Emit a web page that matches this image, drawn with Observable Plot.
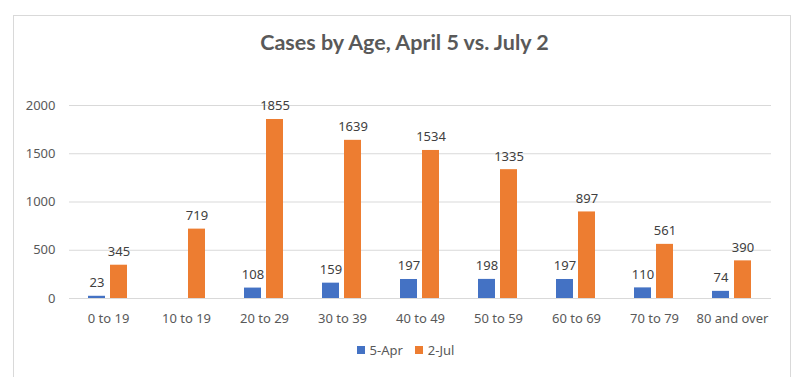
<!DOCTYPE html>
<html>
<head>
<meta charset="utf-8">
<script src="https://cdn.jsdelivr.net/npm/d3@7"></script>
<script src="https://cdn.jsdelivr.net/npm/@observablehq/plot@0.6"></script>
<style>
  html, body { margin: 0; padding: 0; background: #fff; }
  #wrap { position: relative; width: 801px; height: 377px; overflow: hidden; background: #fff; }
  #frame { position: absolute; left: 13px; top: 15px; width: 778px; height: 400px; border: 1px solid #d9d9d9; box-sizing: border-box; }
  #title { position: absolute; left: 4px; width: 801px; top: 29px; text-align: center; font-family: Lato, "Noto Sans", sans-serif; font-weight: bold; font-size: 21.5px; color: #595959; }
  #legend { position: absolute; top: 341px; left: 5px; width: 801px; display: flex; justify-content: center; align-items: center; font-family: "Noto Sans", sans-serif; font-size: 13px; color: #595959; }
  #legend .sw { display: inline-block; width: 8px; height: 8px; margin-right: 5px; }
  #legend .item { display: flex; align-items: center; margin: 0 6px; }
  #chart { position: absolute; left: 0; top: 0; }
</style>
</head>
<body>
<div id="wrap">
  <div id="frame"></div>
  <div id="chart"></div>
  <div id="title">Cases by Age, April 5 vs. July 2</div>
  <div id="legend"></div>
</div>
<script>
const categories = ["0 to 19", "10 to 19", "20 to 29", "30 to 39", "40 to 49", "50 to 59", "60 to 69", "70 to 79", "80 and over"];
const seriesNames = ["5-Apr", "2-Jul"];
const april5 = [23, null, 108, 159, 197, 198, 197, 110, 74];
const july2 = [345, 719, 1855, 1639, 1534, 1335, 897, 561, 390];
const yTicks = [0, 500, 1000, 1500, 2000];
const colors = ["#4472C4", "#ED7D31"];

const rows = [];
categories.forEach((c, i) => {
  rows.push({cat: c, series: seriesNames[0], value: april5[i]});
  rows.push({cat: c, series: seriesNames[1], value: july2[i]});
});
const data = rows.filter(d => d.value != null);

const font = "\"Noto Sans\", sans-serif";

const chart = Plot.plot({
  width: 801,
  height: 377,
  marginTop: 105,
  marginBottom: 79,
  marginLeft: 68,
  marginRight: 29,
  style: {fontFamily: font, fontSize: "13px", color: "#595959", background: "transparent", overflow: "visible"},
  fx: {domain: categories, padding: 0, label: null, axis: "bottom", tickSize: 0, tickPadding: 15},
  x: {domain: seriesNames, paddingInner: 0.22, paddingOuter: 0.81, axis: null},
  y: {domain: [0, 2000], label: null, ticks: yTicks, tickFormat: d => String(d), tickSize: 0, tickPadding: 14},
  color: {domain: seriesNames, range: colors},
  marks: [
    Plot.gridY(yTicks, {stroke: "#d9d9d9", strokeOpacity: 1, strokeWidth: 1}),
    Plot.barY(data, {fx: "cat", x: "series", y: "value", fill: "series"}),
    Plot.text(data, {fx: "cat", x: "series", y: "value", text: d => String(d.value), lineAnchor: "bottom", dy: -9, fill: "#404040", fontSize: 13})
  ]
});
document.getElementById("chart").appendChild(chart);

const legend = document.getElementById("legend");
seriesNames.forEach((s, i) => {
  const item = document.createElement("div");
  item.className = "item";
  const sw = document.createElement("span");
  sw.className = "sw";
  sw.style.background = colors[i];
  item.appendChild(sw);
  item.appendChild(document.createTextNode(s));
  legend.appendChild(item);
});
</script>
</body>
</html>
